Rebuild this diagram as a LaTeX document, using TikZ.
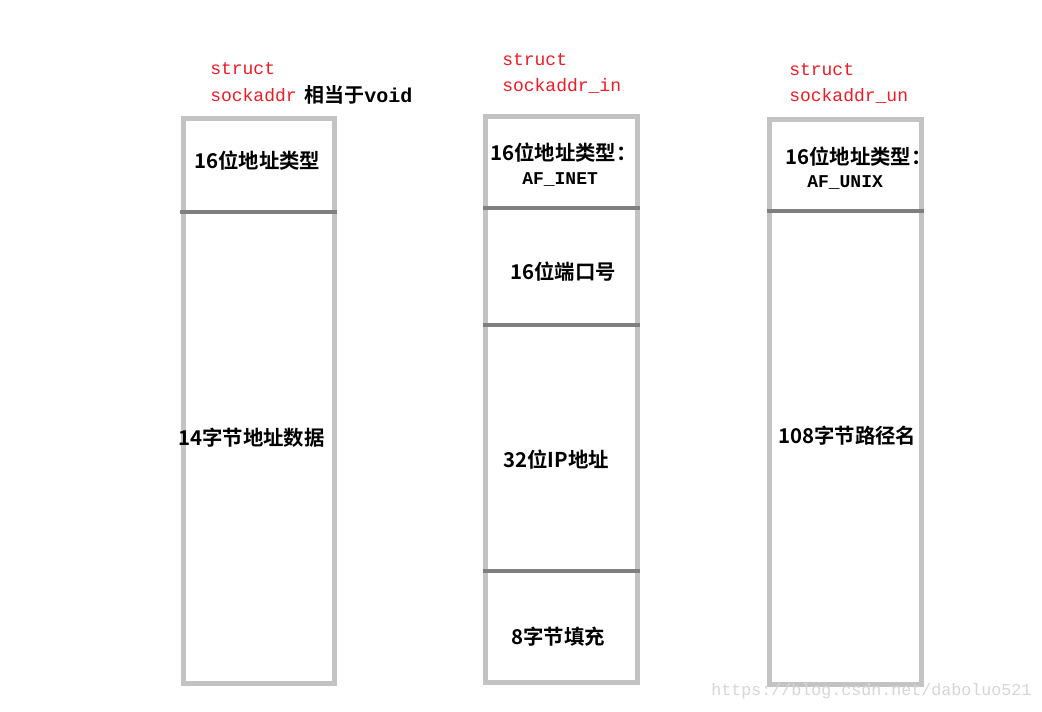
\documentclass[tikz,border=0pt]{standalone}
\usepackage{fontspec}
\newfontfamily\cjk{Noto Sans CJK SC}[BoldFont={* Bold}]
\newfontfamily\monof{Liberation Mono}
\definecolor{framegray}{HTML}{C3C3C3}
\definecolor{divgray}{HTML}{7F7F7F}
\definecolor{lblred}{HTML}{EE1C25}
\definecolor{wmgray}{HTML}{D6D6D6}
\begin{document}
\begin{tikzpicture}[x=0.75pt,y=-0.75pt,
  frame/.style={draw=framegray,line width=3.75pt},
  divider/.style={draw=divgray,line width=3pt},
  title/.style={anchor=west,inner sep=0pt,text=lblred,font=\monof\fontsize{13.5}{16}\selectfont},
  field/.style={anchor=west,inner sep=0pt,font=\cjk\bfseries\fontsize{15.3}{18}\selectfont},
  mono/.style={anchor=west,inner sep=0pt,font=\monof\bfseries\fontsize{13.5}{16}\selectfont},
  wm/.style={anchor=west,inner sep=0pt,text=wmgray,font=\monof\fontsize{12.5}{15}\selectfont}]
\useasboundingbox (0,0) rectangle (1042,711);
\fill[white] (0,0) rectangle (1042,711);

% box 1
\draw[frame] (183,118) rectangle (334,683);
\coordinate (d1l) at (180,212); \coordinate (d1r) at (337,212);
\draw[divider] (d1l) -- (d1r);
\node[title] (t1a) at (210,69) {struct};
\node[title] (t1b) at (210,95) {sockaddr};
\node[anchor=west,inner sep=0pt,font=\cjk\bfseries\fontsize{15}{18}\selectfont] (t1c) at (304,95) {相当于\monof void};
\node[field] (f1a) at (194,161) {16位地址类型};
\node[field] (f1b) at (178,438) {14字节地址数据};

% box 2
\draw[frame] (485.5,116.5) rectangle (637,682.5);
\coordinate (d2al) at (483,208); \coordinate (d2ar) at (639.5,208);
\coordinate (d2bl) at (483,325); \coordinate (d2br) at (639.5,325);
\coordinate (d2cl) at (483,571); \coordinate (d2cr) at (639.5,571);
\draw[divider] (d2al) -- (d2ar);
\draw[divider] (d2bl) -- (d2br);
\draw[divider] (d2cl) -- (d2cr);
\node[title] (t2a) at (502,60) {struct};
\node[title] (t2b) at (502,86) {sockaddr\_in};
\node[field] (f2a) at (490,153) {16位地址类型：};
\node[mono] (f2b) at (522,180) {AF\_INET};
\node[field] (f2c) at (510,272) {16位端口号};
\node[field] (f2d) at (503,460) {32位IP地址};
\node[field] (f2e) at (511,637) {8字节填充};

% box 3
\draw[frame] (769.5,119) rectangle (921.5,684);
\coordinate (d3l) at (767,210.5); \coordinate (d3r) at (924,210.5);
\draw[divider] (d3l) -- (d3r);
\node[title] (t3a) at (789,70) {struct};
\node[title] (t3b) at (789,96) {sockaddr\_un};
\node[field] (f3a) at (785,157) {16位地址类型：};
\node[mono] (f3b) at (807,183) {AF\_UNIX};
\node[field] (f3c) at (778,436) {108字节路径名};

% watermark
\node[wm] (wm) at (711,691) {https://blog.csdn.net/daboluo521};
\end{tikzpicture}
\end{document}
